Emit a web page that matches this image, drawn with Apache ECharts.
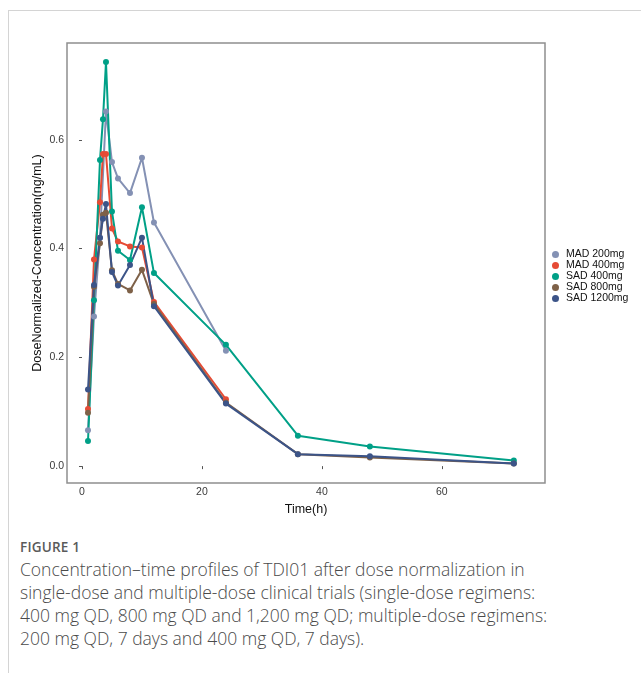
<!DOCTYPE html>
<html>
<head>
<meta charset="utf-8">
<script src="https://cdn.jsdelivr.net/npm/echarts@6/dist/echarts.min.js"></script>
<style>
  body { margin: 0; background: #fff; width: 641px; height: 673px; overflow: hidden; position: relative; }
  #frame { position: absolute; left: 8px; top: 10px; right: -2px; bottom: -2px; border-top: 1px solid #d4d4d4; border-left: 1px solid #d4d4d4; }
  #chart { position: absolute; left: 0; top: 0; width: 641px; height: 530px; }
  #caption { position: absolute; left: 20px; top: 538px; width: 615px; font-family: "Open Sans", "Noto Sans", sans-serif; color: #555; }
  #caption .fig { font-size: 13.5px; font-weight: 600; color: #5a5a5a; letter-spacing: 0.2px; }
  #caption .txt { font-size: 17.5px; font-weight: 300; line-height: 23px; margin-top: 2px; color: #4a4a4a; }
</style>
</head>
<body>
<div id="frame"></div>
<div id="chart"></div>
<div id="caption">
  <div class="fig">FIGURE 1</div>
  <div class="txt">Concentration–time profiles of TDI01 after dose normalization in<br>single-dose and multiple-dose clinical trials (single-dose regimens:<br>400 mg QD, 800 mg QD and 1,200 mg QD; multiple-dose regimens:<br>200 mg QD, 7 days and 400 mg QD, 7 days).</div>
</div>
<script>
// 采样时间 (h)
const times = [1, 2, 3, 3.5, 4, 5, 6, 8, 10, 12, 24, 36, 48, 72];

// 剂量归一化浓度, null = 无数据
const mad200 = [0.066, 0.275, 0.42, null, 0.652, 0.559, 0.529, 0.502, 0.567, 0.448, 0.212, null, null, null];
const mad400 = [0.105, 0.380, 0.485, 0.574, 0.574, 0.437, 0.413, 0.404, 0.402, 0.302, 0.123, null, null, null];
const sad400 = [0.046, 0.305, 0.563, 0.638, 0.743, 0.468, 0.396, 0.379, 0.476, 0.355, 0.223, 0.056, 0.036, 0.0105];
const sad800 = [0.098, 0.330, 0.410, 0.462, 0.466, 0.360, 0.335, 0.323, 0.361, 0.298, 0.117, 0.022, 0.016, 0.005];
const sad1200 = [0.141, 0.333, 0.420, 0.455, 0.482, 0.357, 0.332, 0.370, 0.420, 0.294, 0.115, 0.022, 0.018, 0.005];

const seriesNames = ['MAD 200mg', 'MAD 400mg', 'SAD 400mg', 'SAD 800mg', 'SAD 1200mg'];
const seriesValues = [mad200, mad400, sad400, sad800, sad1200];
const colors = ['#8491B4', '#E64B35', '#00A087', '#7E6148', '#3C5488'];

const xTicks = [0, 20, 40, 60];
const yTicks = [0, 0.2, 0.4, 0.6];

const chart = echarts.init(document.getElementById('chart'));

const axisText = { color: '#3a3a3a', fontSize: 10.5, fontFamily: 'Liberation Sans' };

chart.setOption({
    animation: false,
    textStyle: { fontFamily: 'Liberation Sans' },
    grid: { left: 67, top: 43, width: 478, height: 440, show: true, borderColor: '#8f8f8f', borderWidth: 1.5, backgroundColor: 'transparent' },
    legend: {
        orient: 'vertical',
        left: 552,
        top: 249,
        icon: 'circle',
        itemWidth: 7,
        itemHeight: 7,
        itemGap: 0,
        padding: 0,
        data: seriesNames,
        textStyle: { fontSize: 10.5, color: '#111', padding: [0, 0, 0, 2], lineHeight: 9 }
    },
    xAxis: {
        type: 'value',
        min: -2.5,
        max: 77.2,
        name: 'Time(h)',
        nameLocation: 'middle',
        nameGap: 20,
        nameMoveOverlap: false,
        nameTextStyle: { color: '#111', fontSize: 12.5 },
        axisLine: { show: false },
        splitLine: { show: false },
        axisTick: { show: true, length: 3, lineStyle: { color: '#555' }, customValues: xTicks },
        axisLabel: { ...axisText, margin: 4, customValues: xTicks, formatter: v => String(v) }
    },
    yAxis: {
        type: 'value',
        min: -0.031,
        max: 0.778,
        name: 'DoseNormalized-Concentration(ng/mL)',
        nameLocation: 'middle',
        nameGap: 23,
        nameMoveOverlap: false,
        nameTextStyle: { color: '#111', fontSize: 12.5 },
        axisLine: { show: false },
        splitLine: { show: false },
        axisTick: { show: true, length: 3, lineStyle: { color: '#555' }, customValues: yTicks },
        axisLabel: { ...axisText, margin: 3, customValues: yTicks, formatter: v => v.toFixed(1) }
    },
    series: seriesNames.map((name, i) => ({
        name: name,
        type: 'line',
        connectNulls: true,
        symbol: 'circle',
        symbolSize: 6,
        itemStyle: { color: colors[i] },
        lineStyle: { width: 2, color: colors[i] },
        data: times.map((t, j) => [t, seriesValues[i][j]])
    }))
});
</script>
</body>
</html>
